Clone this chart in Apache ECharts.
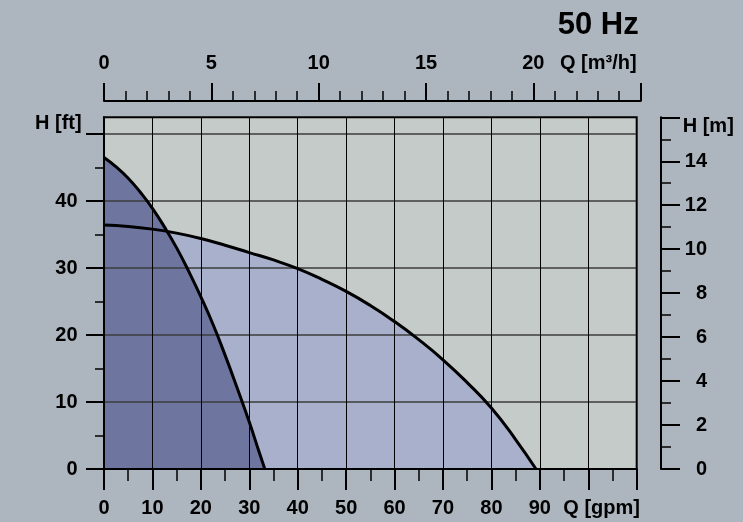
<!DOCTYPE html>
<html><head><meta charset="utf-8">
<script src="https://cdn.jsdelivr.net/npm/echarts@6/dist/echarts.min.js"></script>
<style>html,body{margin:0;padding:0;background:#adb6bf;}#c{width:743px;height:522px;}</style>
</head><body><div id="c"></div>
<script>
// Pump curves: Q in gpm, H in ft
const curveA_gpm = [0, 2.5, 5, 7.5, 10, 12.5, 15, 17.5, 20, 22.5, 25, 27.5, 30, 32, 33.2];
const curveA_ft  = [46.5, 45.1, 43.4, 41.3, 38.9, 36.1, 33.0, 29.5, 25.7, 21.6, 17.0, 12.1, 7.0, 2.6, 0];
const curveB_gpm = [0, 5, 10, 15, 20, 25, 30, 35, 40, 45, 50, 55, 60, 65, 70, 75, 80, 85, 89.2];
const curveB_ft  = [36.4, 36.2, 35.8, 35.2, 34.4, 33.4, 32.3, 31.2, 29.9, 28.3, 26.5, 24.4, 22.0, 19.3, 16.3, 12.9, 9.1, 4.4, 0];

// Axis ticks and labels
const gpmLabels = [0, 10, 20, 30, 40, 50, 60, 70, 80, 90];
const gpmMajorTicks = [0, 10, 20, 30, 40, 50, 60, 70, 80, 90, 100, 110];
const gpmMinorTicks = [5, 15, 25, 35, 45, 55, 65, 75, 85, 95, 105];
const ftLabels = [0, 10, 20, 30, 40];
const ftMajorTicks = [0, 10, 20, 30, 40, 50];
const ftMinorTicks = [5, 15, 25, 35, 45];
const m3hLabels = [0, 5, 10, 15, 20];
const m3hMajorTicks = [0, 5, 10, 15, 20, 25];
const m3hMinorTicks = [1, 2, 3, 4, 6, 7, 8, 9, 11, 12, 13, 14, 16, 17, 18, 19, 21, 22, 23, 24];
const mLabels = [0, 2, 4, 6, 8, 10, 12, 14];
const mMajorTicks = [0, 2, 4, 6, 8, 10, 12, 14, 16];
const mMinorTicks = [1, 3, 5, 7, 9, 11, 13, 15];

const titleText = '50 Hz';
const xNameBottom = 'Q [gpm]';
const xNameTop = 'Q [m³/h]';
const yNameLeft = 'H [ft]';
const yNameRight = 'H [m]';

const pairs = (xs, ys) => xs.map((x, i) => [x, ys[i]]);
const FONT = "'Liberation Sans', Arial, sans-serif";
const lbl = {fontFamily: FONT, fontWeight: 'bold', fontSize: 20, color: '#000'};
const blk = (w) => ({color: '#000', width: w});

const chart = echarts.init(document.getElementById('c'));
chart.setOption({
  animation: false,
  backgroundColor: '#adb6bf',
  grid: [
    {left: 104, top: 117.3, width: 532.7, height: 351.7, show: true, backgroundColor: '#c4cbc9', borderColor: '#000', borderWidth: 2, z: 0},
    {left: 104, top: 101, width: 536.7, height: 20, show: false},
    {left: 400, top: 117.3, width: 261, height: 351.7, show: false}
  ],
  xAxis: [
    {gridIndex: 0, type: 'value', min: 0, max: 110, interval: 10, position: 'bottom', z: 3,
     axisLine: {show: true, onZero: false, lineStyle: blk(2)},
     axisTick: {show: true, customValues: gpmMajorTicks, length: 21, lineStyle: blk(2)},
     axisLabel: Object.assign({customValues: gpmLabels, margin: 29}, lbl),
     splitLine: {show: true, lineStyle: {color: '#000', width: 1}}},
    {gridIndex: 0, type: 'value', min: 0, max: 110, position: 'bottom', z: 3,
     axisLine: {show: false, onZero: false},
     axisTick: {show: true, customValues: gpmMinorTicks, length: 12, lineStyle: blk(1.5)},
     axisLabel: {show: false}, splitLine: {show: false}},
    {gridIndex: 1, type: 'value', min: 0, max: 25, interval: 5, position: 'top',
     axisLine: {show: true, onZero: false, lineStyle: blk(2)},
     axisTick: {show: true, customValues: m3hMajorTicks, length: 18, lineStyle: blk(2)},
     axisLabel: Object.assign({customValues: m3hLabels, margin: 28}, lbl),
     splitLine: {show: false}},
    {gridIndex: 1, type: 'value', min: 0, max: 25, position: 'top',
     axisLine: {show: false, onZero: false},
     axisTick: {show: true, customValues: m3hMinorTicks, length: 10, lineStyle: blk(1.5)},
     axisLabel: {show: false}, splitLine: {show: false}},
    {gridIndex: 2, type: 'value', min: 0, max: 1, show: false}
  ],
  yAxis: [
    {gridIndex: 0, type: 'value', min: 0, max: 52.49, interval: 10, position: 'left', z: 3,
     axisLine: {show: true, onZero: false, lineStyle: blk(2)},
     axisTick: {show: true, customValues: ftMajorTicks, length: 18, lineStyle: blk(2)},
     axisLabel: Object.assign({customValues: ftLabels, margin: 26.5}, lbl),
     splitLine: {show: true, lineStyle: {color: '#3c3c3c', width: 1.5}}},
    {gridIndex: 0, type: 'value', min: 0, max: 52.49, position: 'left', z: 3,
     axisLine: {show: false, onZero: false},
     axisTick: {show: true, customValues: ftMinorTicks, length: 9, lineStyle: blk(1.5)},
     axisLabel: {show: false}, splitLine: {show: false}},
    {gridIndex: 1, type: 'value', min: 0, max: 1, show: false},
    {gridIndex: 2, type: 'value', min: 0, max: 16, interval: 2, position: 'right',
     axisLine: {show: true, onZero: false, lineStyle: blk(2)},
     axisTick: {show: true, customValues: mMajorTicks, length: 19, lineStyle: blk(2)},
     axisLabel: Object.assign({customValues: mLabels, margin: 46, align: 'right'}, lbl),
     splitLine: {show: false}},
    {gridIndex: 2, type: 'value', min: 0, max: 16, position: 'right',
     axisLine: {show: false, onZero: false},
     axisTick: {show: true, customValues: mMinorTicks, length: 10, lineStyle: blk(1.5)},
     axisLabel: {show: false}, splitLine: {show: false}}
  ],
  series: [
    {type: 'line', xAxisIndex: 0, yAxisIndex: 0, data: pairs(curveB_gpm, curveB_ft), smooth: 0.5, symbol: 'none',
     lineStyle: {opacity: 0}, areaStyle: {color: '#a9b0cb', opacity: 1}, z: 1},
    {type: 'line', xAxisIndex: 0, yAxisIndex: 0, data: pairs(curveA_gpm, curveA_ft), smooth: 0.5, symbol: 'none',
     lineStyle: {opacity: 0}, areaStyle: {color: '#6e76a0', opacity: 1}, z: 1},
    {type: 'line', xAxisIndex: 0, yAxisIndex: 0, data: pairs(curveB_gpm, curveB_ft), smooth: 0.5, symbol: 'none',
     lineStyle: {color: '#000', width: 3}, z: 5},
    {type: 'line', xAxisIndex: 0, yAxisIndex: 0, data: pairs(curveA_gpm, curveA_ft), smooth: 0.5, symbol: 'none',
     lineStyle: {color: '#000', width: 3}, z: 5}
  ],
  graphic: [
    {type: 'text', x: 638.7, y: 25, style: {text: titleText, font: "bold 31px " + FONT, fill: '#000', align: 'right', verticalAlign: 'middle'}},
    {type: 'text', x: 560, y: 63, style: {text: xNameTop, font: "bold 20px " + FONT, fill: '#000', align: 'left', verticalAlign: 'middle'}},
    {type: 'text', x: 563.3, y: 508.3, style: {text: xNameBottom, font: "bold 20px " + FONT, fill: '#000', align: 'left', verticalAlign: 'middle'}},
    {type: 'text', x: 35, y: 123.3, style: {text: yNameLeft, font: "bold 20px " + FONT, fill: '#000', align: 'left', verticalAlign: 'middle'}},
    {type: 'text', x: 682.7, y: 126, style: {text: yNameRight, font: "bold 20px " + FONT, fill: '#000', align: 'left', verticalAlign: 'middle'}}
  ]
});
</script></body></html>
